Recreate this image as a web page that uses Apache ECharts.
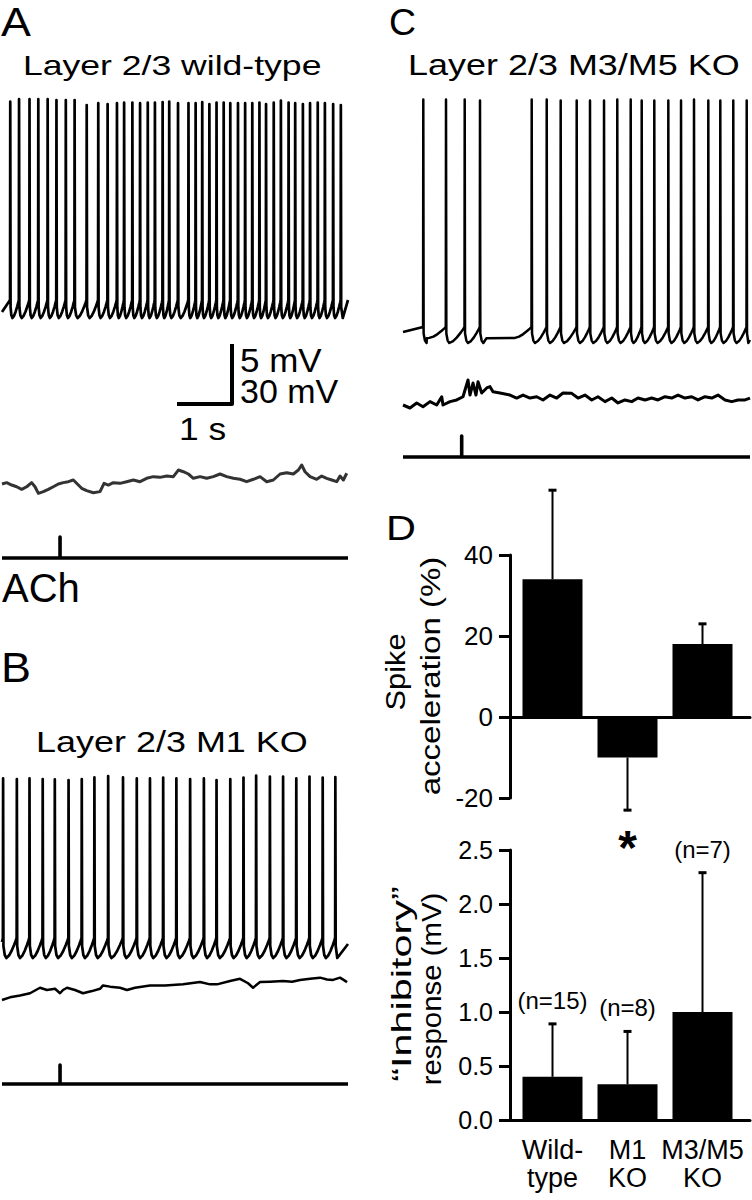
<!DOCTYPE html>
<html>
<head>
<meta charset="utf-8">
<script src="https://cdn.jsdelivr.net/npm/echarts@6/dist/echarts.min.js"></script>
<style>
html,body{margin:0;padding:0;background:#fff;}
#chart{width:752px;height:1200px;}
</style>
</head>
<body>
<div id="chart"></div>
<script>
// ---------------- DATA ----------------
// Spike times (s) and peak potentials (mV)
const spikeTimesA = [0.15,0.31,0.50,0.66,0.83,0.99,1.16,1.32,1.54,1.75,1.92,2.09,2.22,2.37,2.51,2.65,2.78,2.92,3.04,3.20,3.39,3.52,3.64,3.77,3.90,4.03,4.15,4.29,4.42,4.55,4.68,4.80,4.94,5.07,5.21,5.33,5.47,5.60,5.74,5.87,6.02,6.16];
const spikePeaksA = [38.2,39.4,39.4,39.4,39.4,39,39,39,36.5,37.4,37,37.4,37.7,37.7,37.4,37.7,37.7,38,38.2,37.4,37.4,37.4,38,37,37.7,37.7,37.4,37.4,37.4,37.4,37.7,37,37.7,38.7,37.7,37.4,37,37.4,37.7,37.4,37,36.5];
const spikeTimesB = [0.02,0.27,0.50,0.74,0.96,1.21,1.45,1.68,1.93,2.20,2.45,2.69,2.93,3.17,3.42,3.67,3.90,4.15,4.39,4.62,4.87,5.11,5.35,5.59,5.83,6.06];
const spikePeaksB = [19.8,19.5,19.8,19.5,19.3,19,19.5,20.3,21,20.3,19.8,19.8,20.2,19.8,19.5,19.8,19,19.5,20.2,21.2,20.7,20.7,19.8,20.7,20.2,20.5];
const spikeTimesC = [0.369,0.782,1.122,1.40,2.34,2.613,2.867,3.158,3.40,3.655,3.896,4.14,4.34,4.569,4.824,5.055,5.291,5.551,5.769,6.005,6.249];
const spikePeaksC = [51.8,51.8,51.8,51.2,51.8,51.8,51.2,51.2,51.2,51.2,51.8,51.8,51.2,51.2,51.2,51.2,51.8,51.2,51.2,51.2,51.2];
// Resting levels (mV): trough, threshold, start and end of each trace
const levelsA = {trough:-70, thr:-61, t0:0, v0:-67, t1:6.29, v1:-61};
const levelsB = {trough:-70, thr:-60, t0:0, v0:-62, t1:6.29, v1:-63};
const levelsC = {trough:-70, thr:-62, t0:0, v0:-64.5, t1:6.309, v1:-68.5};

// Sub-threshold recordings ([time s, mV])
const noiseA = [[0,2.17],[0.085,2.28],[0.176,2.08],[0.267,1.94],[0.358,1.72],[0.449,1.94],[0.539,2.28],[0.6,1.94],[0.661,1.39],[0.752,1.53],[0.842,1.72],[0.933,1.94],[1.024,2.17],[1.115,2.28],[1.206,2.36],[1.297,2.5],[1.37,2.17],[1.448,1.81],[1.539,1.61],[1.661,1.44],[1.782,1.53],[1.855,2.22],[1.933,2.08],[2.024,2.28],[2.145,2.22],[2.267,2.36],[2.388,2.5],[2.509,2.36],[2.63,2.64],[2.752,2.78],[2.873,2.72],[2.994,2.83],[3.115,2.78],[3.206,3.33],[3.297,3.19],[3.388,3.0],[3.479,2.64],[3.6,2.78],[3.721,2.64],[3.842,2.78],[3.964,3.0],[4.085,2.78],[4.206,2.64],[4.327,2.56],[4.448,2.36],[4.57,2.56],[4.691,2.78],[4.812,2.36],[4.933,2.5],[5.055,3.0],[5.176,3.11],[5.297,3.0],[5.388,3.33],[5.448,3.75],[5.509,3.19],[5.6,2.78],[5.721,2.56],[5.812,2.83],[5.903,2.64],[5.994,2.5],[6.085,2.36],[6.145,2.83],[6.206,2.5],[6.267,3.06]];
const noiseB = [[0,1.67],[0.145,1.89],[0.327,2.04],[0.509,2.23],[0.691,2.69],[0.818,2.5],[0.964,2.6],[1.055,2.23],[1.109,2.5],[1.182,2.69],[1.327,2.5],[1.473,2.23],[1.636,2.41],[1.782,2.6],[1.836,2.88],[1.964,2.78],[2.145,2.69],[2.273,2.5],[2.418,2.69],[2.691,2.88],[2.964,2.88],[3.291,2.97],[3.6,3.16],[3.782,2.97],[3.909,2.97],[4.145,3.25],[4.327,3.43],[4.473,3.06],[4.564,2.69],[4.691,3.16],[4.873,3.19],[5.109,3.25],[5.273,3.19],[5.418,3.34],[5.6,3.43],[5.782,3.53],[5.909,3.38],[6.018,3.34],[6.145,3.53],[6.273,3.16]];
const noiseC = [[0,1.25],[0.127,1.0],[0.249,1.42],[0.364,1.11],[0.491,1.53],[0.613,1.25],[0.704,1.94],[0.727,1.25],[0.855,1.53],[0.976,1.67],[1.091,1.94],[1.182,3.33],[1.218,2.08],[1.273,3.08],[1.327,2.08],[1.364,3.19],[1.431,2.25],[1.522,2.67],[1.582,2.78],[1.636,2.36],[1.764,2.25],[1.945,2.08],[2.067,1.83],[2.182,2.08],[2.309,1.83],[2.431,1.94],[2.545,1.67],[2.673,2.08],[2.795,1.83],[2.909,2.25],[3.067,2.22],[3.182,1.83],[3.309,2.08],[3.431,1.67],[3.545,1.94],[3.673,1.53],[3.795,1.83],[3.909,1.42],[4.036,1.67],[4.158,1.53],[4.273,1.83],[4.4,1.67],[4.522,1.83],[4.636,1.67],[4.764,1.94],[4.885,1.83],[5.0,2.08],[5.127,1.83],[5.249,1.94],[5.364,1.67],[5.491,1.94],[5.613,1.83],[5.727,2.08],[5.855,1.67],[5.976,1.53],[6.091,1.67],[6.218,1.67],[6.309,1.83]];

// ACh application time (s)
const achTimeAB = 1.055;
const achTimeC = 1.067;

// Panel D summary data
const groups = ['Wild-\ntype', 'M1\nKO', 'M3/M5\nKO'];
const accelMean = [34, -10, 18];
const accelSem = [22, 13, 5];
const inhibMean = [0.40, 0.33, 1.00];
const inhibSem = [0.49, 0.49, 1.29];
const nLabels = ['(n=15)', '(n=8)', '(n=7)'];
const sigMark = ['', '*', ''];

// ---------------- BUILD ----------------
const FONT = "'Liberation Sans', Arial, Helvetica, sans-serif";

function buildTrain(times, peaks, p) {
  const pts = [[p.t0, p.v0]];
  const R = p.thr - p.trough;
  const RISE = 0.3; // s, longest recovery ramp before a spike
  for (let i = 0; i < times.length; i++) {
    const t = times[i];
    pts.push([t - 0.004, p.thr]);
    pts.push([t, peaks[i]]);
    pts.push([t + 0.006, p.trough + 0.6 * R]);
    if (i + 1 < times.length) {
      const next = times[i + 1];
      const d = next - t;
      const a = Math.min(0.25 * d, 0.06);
      pts.push([t + 0.5 * a, p.trough + 0.15 * R]);
      pts.push([t + a, p.trough]);
      let start = t + a, base = 0;
      const full = next - 0.004 - start;
      if (full > RISE) {
        pts.push([start + 0.1 * (full - RISE), p.trough + 0.3 * R]);
        start = next - 0.004 - RISE;
        base = 0.32;
        pts.push([start, p.trough + base * R]);
      }
      const span = next - 0.004 - start;
      [[0.25, 0.12], [0.5, 0.35], [0.75, 0.65], [0.9, 0.85]].forEach(function (q) {
        pts.push([start + q[0] * span, p.trough + (base + (1 - base) * q[1]) * R]);
      });
    } else {
      const a = Math.min(0.035, (p.t1 - t) / 2);
      pts.push([t + a, p.trough]);
      pts.push([p.t1, p.v1]);
    }
  }
  return pts;
}
function stimTrace(tAch, tEnd) {
  return [[0, 0], [tAch, 0], [tAch, 1], [tAch, 0], [tEnd, 0]];
}

const grids = [
  {left: 2, top: 88, width: 346, height: 250, x: [0, 6.29], y: [-80, 45]},     // 0 A spikes
  {left: 2, top: 450, width: 346, height: 60, x: [0, 6.29], y: [0, 5]},        // 1 A noise
  {left: 2, top: 537, width: 346, height: 21, x: [0, 6.29], y: [0, 1]},        // 2 A stim
  {left: 177, top: 344, width: 55, height: 60, x: [0, 1], y: [0, 30]},         // 3 scale bar
  {left: 2, top: 758, width: 346, height: 220, x: [0, 6.29], y: [-80, 30]},    // 4 B spikes
  {left: 2, top: 960, width: 346, height: 60, x: [0, 6.29], y: [0, 5]},        // 5 B noise
  {left: 2, top: 1065, width: 346, height: 19, x: [0, 6.29], y: [0, 1]},       // 6 B stim
  {left: 403, top: 83, width: 347, height: 280, x: [0, 6.309], y: [-80, 60]},  // 7 C spikes
  {left: 403, top: 360, width: 347, height: 60, x: [0, 6.309], y: [0, 5]},     // 8 C noise
  {left: 403, top: 436, width: 347, height: 21, x: [0, 6.309], y: [0, 1]}      // 9 C stim
];

const gridOpt = grids.map(g => ({left: g.left, top: g.top, width: g.width, height: g.height}));
gridOpt.push({left: 510, top: 555, width: 240, height: 243});   // 10 D top
gridOpt.push({left: 510, top: 850, width: 240, height: 270});   // 11 D bottom

const xAxes = grids.map((g, i) => ({gridIndex: i, type: 'value', min: g.x[0], max: g.x[1], show: false}));
const yAxes = grids.map((g, i) => ({gridIndex: i, type: 'value', min: g.y[0], max: g.y[1], show: false}));

const XMIN = -0.5667, XMAX = 2.6333;
const axisBlack = {color: '#000', width: 3};
xAxes.push({gridIndex: 10, type: 'value', min: XMIN, max: XMAX,
  axisLine: {show: true, onZero: true, lineStyle: axisBlack}, axisTick: {show: false},
  axisLabel: {show: false}, splitLine: {show: false}});
xAxes.push({gridIndex: 11, type: 'value', min: XMIN, max: XMAX,
  axisLine: {show: true, onZero: true, lineStyle: axisBlack}, axisTick: {show: false},
  axisLabel: {show: true, customValues: [0, 1, 2], formatter: v => groups[Math.round(v)],
    color: '#000', fontFamily: FONT, fontSize: 27, lineHeight: 28, margin: 16},
  splitLine: {show: false}});
yAxes.push({gridIndex: 10, type: 'value', min: -20, max: 40, interval: 20,
  axisLine: {show: true, onZero: false, lineStyle: axisBlack},
  axisTick: {show: true, length: 11, lineStyle: axisBlack},
  axisLabel: {color: '#000', fontFamily: FONT, fontSize: 26, margin: 17},
  splitLine: {show: false}});
yAxes.push({gridIndex: 11, type: 'value', min: 0, max: 2.5, interval: 0.5,
  axisLine: {show: true, onZero: false, lineStyle: axisBlack},
  axisTick: {show: true, length: 11, lineStyle: axisBlack},
  axisLabel: {color: '#000', fontFamily: FONT, fontSize: 25, margin: 17, formatter: v => v.toFixed(1)},
  splitLine: {show: false}});

function line(idx, data, width, color) {
  return {type: 'line', xAxisIndex: idx, yAxisIndex: idx, data: data, showSymbol: false, symbol: 'none',
    silent: true, clip: false, animation: false,
    lineStyle: {color: color || '#000', width: width, join: 'round', cap: 'butt'}};
}
// error bars, with an optional annotation text beyond the error bar end
function errorBars(idx, mean, sem, notes, noteFont, noteGap) {
  return {type: 'custom', xAxisIndex: idx, yAxisIndex: idx, silent: true, z: 3, clip: false,
    data: mean.map((m, i) => [i, m, sem[i]]),
    renderItem: function (params, api) {
      const x = api.value(0), m = api.value(1), e = api.value(2);
      const down = m < 0;
      const end = m + (down ? -e : e);
      const p0 = api.coord([x, m]);
      const p1 = api.coord([x, end]);
      const children = [
        {type: 'line', shape: {x1: p0[0], y1: p0[1], x2: p1[0], y2: p1[1]}, style: {stroke: '#000', lineWidth: 2}},
        {type: 'line', shape: {x1: p1[0] - 4, y1: p1[1], x2: p1[0] + 4, y2: p1[1]}, style: {stroke: '#000', lineWidth: 3}}
      ];
      const note = notes[params.dataIndex];
      if (note) {
        children.push({type: 'text', x: p1[0], y: p1[1] + (down ? noteGap : -noteGap),
          style: {text: note, font: noteFont, fill: '#000', textAlign: 'center', align: 'center',
            textVerticalAlign: down ? 'top' : 'bottom', verticalAlign: down ? 'top' : 'bottom'}});
      }
      return {type: 'group', children: children};
    }};
}

const series = [
  line(0, buildTrain(spikeTimesA, spikePeaksA, levelsA), 2.7),
  line(1, noiseA, 3, '#333'),
  line(2, stimTrace(achTimeAB, 6.29), 3.6),
  line(3, [[0, 0], [1, 0], [1, 30]], 4),
  line(4, buildTrain(spikeTimesB, spikePeaksB, levelsB), 2.7),
  line(5, noiseB, 2.5),
  line(6, stimTrace(achTimeAB, 6.29), 3.6),
  line(7, buildTrain(spikeTimesC, spikePeaksC, levelsC), 2.5),
  line(8, noiseC, 3),
  line(9, stimTrace(achTimeC, 6.309), 3.6),
  {type: 'bar', xAxisIndex: 10, yAxisIndex: 10, barWidth: 60, silent: true,
   itemStyle: {color: '#000'}, data: accelMean.map((m, i) => [i, m])},
  errorBars(10, accelMean, accelSem, sigMark, 'bold 48px ' + FONT, 13),
  {type: 'bar', xAxisIndex: 11, yAxisIndex: 11, barWidth: 60, silent: true,
   itemStyle: {color: '#000'}, data: inhibMean.map((m, i) => [i, m])},
  errorBars(11, inhibMean, inhibSem, nLabels, 'normal 24px ' + FONT, 11.5)
];

// Free text (panel letters, titles, scale labels, axis names)
const textItems = [
  {t: 'A', x: 1, y: 22, size: 40, sx: 1.12},
  {t: 'Layer 2/3 wild-type', x: 23, y: 65, size: 28, sx: 1.27},
  {t: '5 mV', x: 240, y: 360, size: 33, sx: 1.06},
  {t: '30 mV', x: 240, y: 391.5, size: 33, sx: 1.03},
  {t: '1 s', x: 179, y: 429, size: 31, sx: 1.14},
  {t: 'ACh', x: 2, y: 587.5, size: 40, sx: 1.0},
  {t: 'B', x: 1, y: 667.5, size: 42, sx: 1.07},
  {t: 'Layer 2/3 M1 KO', x: 36, y: 742, size: 29, sx: 1.24},
  {t: 'C', x: 389, y: 22.5, size: 36, sx: 1.04},
  {t: 'Layer 2/3 M3/M5 KO', x: 408, y: 64.5, size: 29, sx: 1.24},
  {t: 'D', x: 386, y: 527.5, size: 36, sx: 1.15},
  {t: 'Spike', x: 395, y: 672, size: 28, sx: 1.1, rot: true, align: 'center'},
  {t: 'acceleration (%)', x: 430, y: 676, size: 28, sx: 1.18, rot: true, align: 'center'},
  {t: '\u201CInhibitory\u201D', x: 401, y: 984, size: 28, sx: 1.48, rot: true, align: 'center'},
  {t: 'response (mV)', x: 431, y: 989, size: 28, sx: 1.05, rot: true, align: 'center'}
];
const graphic = textItems.map(o => ({
  type: 'text', x: o.x, y: o.y, rotation: o.rot ? Math.PI / 2 : 0, scaleX: o.sx, silent: true,
  style: {text: o.t, font: 'normal ' + o.size + 'px ' + FONT, fill: '#000',
    textAlign: o.align || 'left', textVerticalAlign: 'middle', align: o.align || 'left', verticalAlign: 'middle'}
}));

const chart = echarts.init(document.getElementById('chart'), null, {renderer: 'svg', width: 752, height: 1200});
chart.setOption({
  backgroundColor: '#fff',
  animation: false,
  grid: gridOpt,
  xAxis: xAxes,
  yAxis: yAxes,
  series: series,
  graphic: graphic
});
</script>
</body>
</html>
